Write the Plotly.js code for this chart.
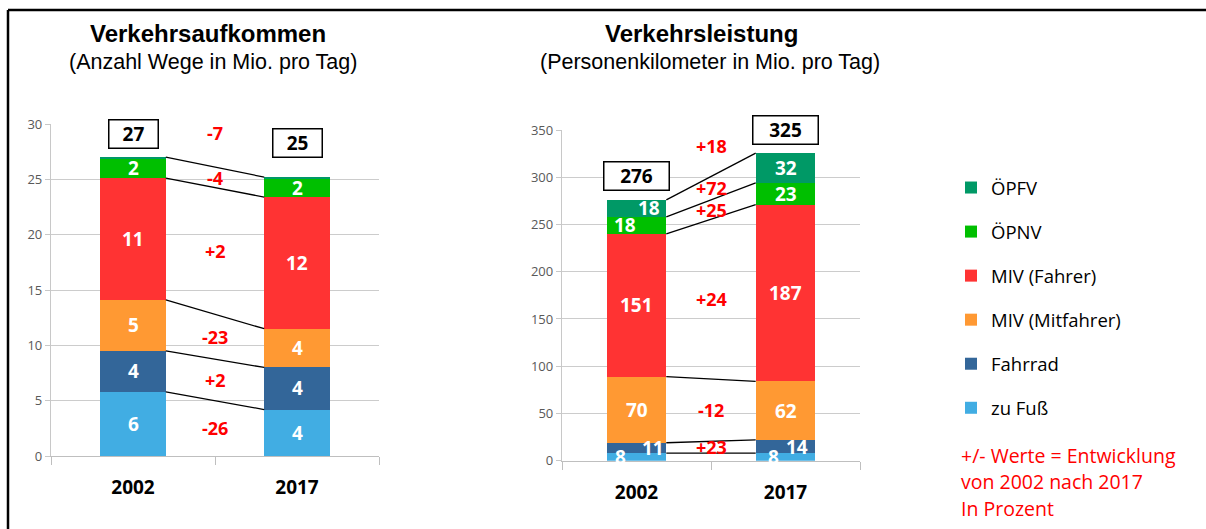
<!DOCTYPE html>
<html>
<head>
<meta charset="utf-8">
<script src="https://cdn.plot.ly/plotly-3.0.1.min.js"></script>
<style>
  body { margin: 0; background: #fff; }
  #chart { width: 1206px; height: 529px; }
</style>
</head>
<body>
<div id="chart"></div>
<script>
// categories and series (bottom of the stack first)
var years = ['2002', '2017'];
var seriesNames = ['zu Fuß', 'Fahrrad', 'MIV (Mitfahrer)', 'MIV (Fahrer)', 'ÖPNV', 'ÖPFV'];
var seriesColors = ['#41ADE3', '#336699', '#FF9933', '#FF3333', '#00BF00', '#009966'];

// Verkehrsaufkommen, Mio. Wege pro Tag [2002, 2017]
var wegeFuss = [5.8, 4.2];
var wegeRad = [3.7, 3.8];
var wegeMitfahrer = [4.6, 3.5];
var wegeFahrer = [11.0, 11.9];
var wegeOepnv = [1.8, 1.7];
var wegeOepfv = [0.1, 0.1];
var wegeTotals = [27, 25];
// change 2002 -> 2017 in percent (null = no label)
var wegePct = [-26, 2, -23, 2, -4, null];
var wegePctTotal = -7;

// Verkehrsleistung, Mio. Personenkilometer pro Tag [2002, 2017]
var pkmFuss = [8, 8];
var pkmRad = [11, 14];
var pkmMitfahrer = [70, 62];
var pkmFahrer = [151, 187];
var pkmOepnv = [18, 23];
var pkmOepfv = [18, 31.5];
var pkmTotals = [276, 325];
var pkmPct = [null, 23, -12, 24, 25, 72];
var pkmPctTotal = 18;

var noteLines = ['+/- Werte = Entwicklung', 'von 2002 nach 2017', 'In Prozent'];

var numFont = 'Open Sans, Lato, sans-serif';
var traces = [];
var annotations = [];
var shapes = [];

function fmtPct(v) { return (v > 0 ? '+' : '') + v; }

function addChart(vals, totals, pcts, pctTotal, xa, ya, opt) {
  var xr = xa.replace('axis', ''), yr = ya.replace('axis', '');
  var cum = [[0, 0]];
  vals.forEach(function (s, i) {
    cum.push([cum[i][0] + s[0], cum[i][1] + s[1]]);
    traces.push({
      type: 'bar', x: years, y: s, name: seriesNames[i],
      xaxis: xr, yaxis: yr, legendgroup: seriesNames[i], legendrank: 10 - i,
      showlegend: opt.legend, marker: { color: seriesColors[i] },
      hoverinfo: 'name+y'
    });
  });
  // segment labels
  vals.forEach(function (s, i) {
    if (opt.hideLabel[i]) return;
    [0, 1].forEach(function (j) {
      annotations.push({
        xref: xr, yref: yr, x: j, y: (cum[i][j] + cum[i + 1][j]) / 2,
        xshift: opt.labelShift[i][j], text: String(Math.round(s[j])), showarrow: false,
        font: { family: numFont, size: 19, color: '#fff', weight: 'bold' }
      });
    });
  });
  // red change labels between bars
  var pctFont = { family: numFont, size: 18, color: '#FF0000', weight: 'bold' };
  pcts.forEach(function (p, i) {
    if (p === null) return;
    var m0 = (cum[i][0] + cum[i + 1][0]) / 2, m1 = (cum[i][1] + cum[i + 1][1]) / 2;
    annotations.push({
      xref: xr, yref: yr, x: 0.5, y: (m0 + m1) / 2, text: fmtPct(p), showarrow: false,
      borderpad: 0, font: pctFont
    });
  });
  var top = Math.max(cum[6][0], cum[6][1]);
  annotations.push({
    xref: xr, yref: yr, x: 0.5, y: top, yshift: opt.pctTotalShift, text: fmtPct(pctTotal),
    showarrow: false, borderpad: 0, font: pctFont
  });
  // boxed totals
  [0, 1].forEach(function (j) {
    annotations.push({
      xref: xr, yref: yr, x: j, y: cum[6][j], yshift: opt.boxShift[j],
      text: String(totals[j]), showarrow: false, width: opt.boxWidth, height: 25,
      bgcolor: '#fff', bordercolor: '#000', borderwidth: 1.5, borderpad: 1,
      font: { family: numFont, size: 19, color: '#000', weight: 'bold' }
    });
  });
  // connector lines between the bars
  opt.links.forEach(function (k) {
    shapes.push({
      type: 'line', xref: xr, yref: yr, x0: 0.2, x1: 0.8, y0: cum[k][0], y1: cum[k][1],
      line: { color: '#000', width: 1.3 }
    });
  });
}

addChart([wegeFuss, wegeRad, wegeMitfahrer, wegeFahrer, wegeOepnv, wegeOepfv],
  wegeTotals, wegePct, wegePctTotal, 'xaxis', 'yaxis', {
    legend: false, hideLabel: [false, false, false, false, false, true],
    labelShift: [[0, 0], [0, 0], [0, 0], [0, 0], [0, 0], [0, 0]],
    pctTotalShift: 24, boxShift: [23, 34], boxWidth: 46, links: [1, 2, 3, 4, 6]
  });

addChart([pkmFuss, pkmRad, pkmMitfahrer, pkmFahrer, pkmOepnv, pkmOepfv],
  pkmTotals, pkmPct, pkmPctTotal, 'xaxis2', 'yaxis2', {
    legend: true, hideLabel: [false, false, false, false, false, false],
    labelShift: [[-16, -12], [16, 11], [0, 0], [0, 0], [-12, 0], [12, 0]],
    pctTotalShift: 7, boxShift: [24, 23], boxWidth: 62, links: [1, 2, 3, 4, 5, 6]
  });

// titles
var titleFont = { family: 'Liberation Sans, Arial, sans-serif', size: 24, color: '#000', weight: 'bold' };
var subFont = { family: 'Liberation Sans, Arial, sans-serif', size: 21.5, color: '#000' };
function paperText(x, y, text, font) {
  return { xref: 'paper', yref: 'paper', x: x / 1206, y: (529 - y) / 529, xanchor: 'center', yanchor: 'middle',
    text: text, showarrow: false, font: font };
}
annotations.push(
  paperText(208, 33, 'Verkehrsaufkommen', titleFont),
  paperText(213, 62, '(Anzahl Wege in Mio. pro Tag)', subFont),
  paperText(701, 33, 'Verkehrsleistung', titleFont),
  paperText(710, 62, '(Personenkilometer in Mio. pro Tag)', subFont)
);
noteLines.forEach(function (t, i) {
  var a = paperText(959, 455 + i * 26.5, t, { family: numFont, size: 19.5, color: '#FF0000' });
  a.xanchor = 'left';
  annotations.push(a);
});

// frame
shapes.push(
  { type: 'line', xref: 'paper', yref: 'paper', x0: 8 / 1206, x1: 1, y0: 519 / 529, y1: 519 / 529, line: { color: '#000', width: 2.5 } },
  { type: 'line', xref: 'paper', yref: 'paper', x0: 8 / 1206, x1: 8 / 1206, y0: 0, y1: 519 / 529, line: { color: '#000', width: 2.5 } }
);

function xAxis(domain, anchor) {
  return {
    domain: domain, anchor: anchor, type: 'category', range: [-0.5, 1.5],
    showline: true, linecolor: '#bfbfbf', linewidth: 1.3, ticks: 'outside', tickson: 'boundaries',
    ticklen: 8, tickcolor: '#bfbfbf', showgrid: false, ticklabelstandoff: 14,
    tickfont: { family: numFont, size: 19, color: '#000', weight: 'bold' }
  };
}
function yAxis(domain, anchor, max, dtick) {
  return {
    domain: domain, anchor: anchor, range: [0, max], dtick: dtick,
    showgrid: true, gridcolor: '#cccccc', gridwidth: 1.3, zeroline: false,
    showline: true, linecolor: '#c8c8c8', linewidth: 1.3, ticks: 'outside', ticklen: 5, tickcolor: '#c8c8c8',
    tickfont: { family: numFont, size: 13, color: '#595959' }
  };
}

var layout = {
  width: 1206, height: 529,
  margin: { l: 0, r: 0, t: 0, b: 0 },
  paper_bgcolor: '#fff', plot_bgcolor: '#fff',
  barmode: 'stack', bargap: 0.6,
  xaxis: xAxis([51 / 1206, 379 / 1206], 'y'),
  yaxis: yAxis([73 / 529, 405 / 529], 'x', 30, 5),
  xaxis2: xAxis([562 / 1206, 860 / 1206], 'y2'),
  yaxis2: yAxis([68.3 / 529, 399 / 529], 'x2', 350, 50),
  showlegend: true,
  legend: {
    x: 951 / 1206, y: (529 - 169) / 529, xanchor: 'left', yanchor: 'top',
    traceorder: 'grouped', tracegroupgap: 17,
    font: { family: numFont, size: 18.5, color: '#000' }
  },
  annotations: annotations,
  shapes: shapes
};

Plotly.newPlot('chart', traces, layout, { displayModeBar: false });
</script>
</body>
</html>
